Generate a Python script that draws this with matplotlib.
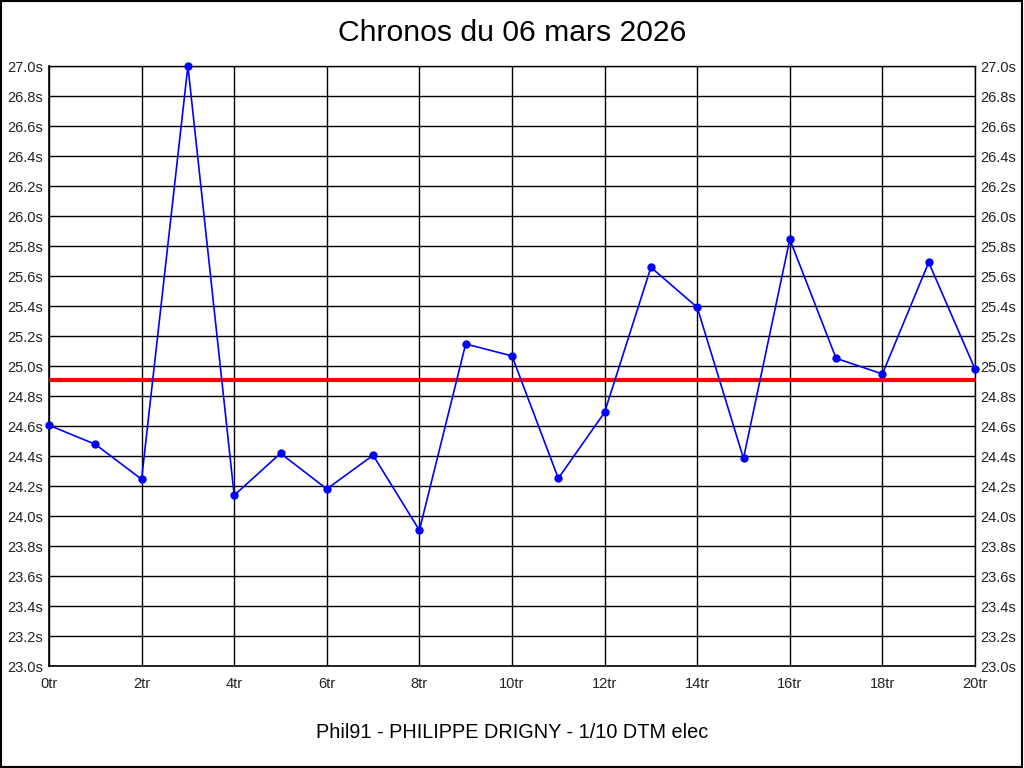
import numpy as np
import matplotlib.pyplot as plt
from matplotlib.patches import Rectangle

plt.rcParams["font.family"] = ["Liberation Sans", "DejaVu Sans"]

laps = list(range(21))
times = [24.605, 24.478, 24.245, 27.0, 24.138, 24.418, 24.18, 24.405, 23.905,
         25.147, 25.067, 24.251, 24.691, 25.658, 25.391, 24.384, 25.845,
         25.051, 24.947, 25.691, 24.98]
ref_time = 24.91

title = "Chronos du 06 mars 2026"
footer = "Phil91 - PHILIPPE DRIGNY - 1/10 DTM elec"

fig = plt.figure(figsize=(10.24, 7.68), dpi=100)
ax = fig.add_axes([49 / 1024, 1 - 666 / 768, 926 / 1024, 600 / 768])

ax.plot(laps, times, color="#0000ff", linewidth=1.2, marker="o",
        markersize=5, zorder=4, clip_on=False)
ax.axhline(ref_time, color="#ff0000", linewidth=3, zorder=3)

ax.set_xlim(0, 20)
ax.set_ylim(23.0, 27.0)
xt = np.arange(0, 21, 2)
yt = np.round(np.arange(23.0, 27.01, 0.2), 1)
ax.set_xticks(xt)
ax.set_xticklabels([f"{v}tr" for v in xt])
ax.set_yticks(yt)
ax.set_yticklabels([f"{v:.1f}s" for v in yt])
ax.tick_params(axis="both", length=0, labelsize=10.5, colors="#222222")
ax.tick_params(axis="y", right=True, labelright=True, pad=4)
ax.tick_params(axis="x", pad=8)
ax.grid(True, color="black", linewidth=1)
ax.set_axisbelow(True)
for side in ["left", "bottom"]:
    ax.spines[side].set_linewidth(1.2)
for side in ["top", "right"]:
    ax.spines[side].set_linewidth(1.0)

fig.text(0.5, 1 - 33 / 768, title, ha="center", va="center", fontsize=21.7)
fig.text(0.5, 1 - 733 / 768, footer, ha="center", va="center", fontsize=14.3)

fig.patches.append(Rectangle((0.0005, 0.0008), 0.998, 0.998, transform=fig.transFigure,
                             fill=False, edgecolor="black", linewidth=1.5))

fig.savefig("out.png", dpi=100)
